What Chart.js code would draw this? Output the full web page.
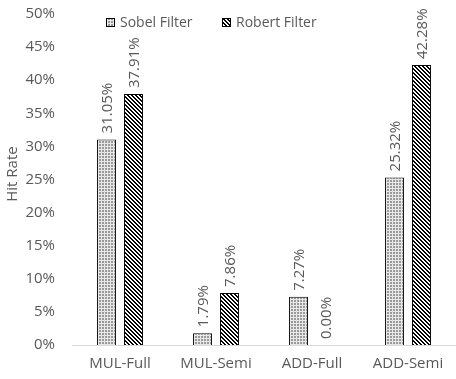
<!DOCTYPE html>
<html>
<head>
<meta charset="utf-8">
<script src="https://cdn.jsdelivr.net/npm/chart.js@4"></script>
<style>
  html, body { margin: 0; padding: 0; background: #fff; }
</style>
</head>
<body>
<canvas id="grafico" width="456" height="379"></canvas>
<script>
// dados do gráfico
const categorias = ['MUL-Full', 'MUL-Semi', 'ADD-Full', 'ADD-Semi'];
const sobel = [31.05, 1.79, 7.27, 25.32];
const robert = [37.91, 7.86, 0.00, 42.28];
const nomesSeries = ['Sobel Filter', 'Robert Filter'];
const ticksY = [0, 5, 10, 15, 20, 25, 30, 35, 40, 45, 50];
const tituloY = 'Hit Rate';

const fonte = '"Open Sans", sans-serif';
const cinza = '#595959';

// padrões de preenchimento
function padraoPontos() {
    const c = document.createElement('canvas');
    c.width = 3; c.height = 3;
    const g = c.getContext('2d');
    g.fillStyle = '#ffffff';
    g.fillRect(0, 0, 3, 3);
    g.fillStyle = '#9a9a9a';
    g.fillRect(0, 0, 2, 2);
    g.fillStyle = '#e8e8e8';
    g.fillRect(2, 0, 1, 3);
    g.fillRect(0, 2, 3, 1);
    return g.createPattern(c, 'repeat');
}

function padraoListras() {
    const c = document.createElement('canvas');
    c.width = 4; c.height = 4;
    const g = c.getContext('2d');
    g.fillStyle = '#ffffff';
    g.fillRect(0, 0, 4, 4);
    g.fillStyle = '#000000';
    for (let i = 0; i < 4; i++) {
        g.fillRect(i, i, 2, 1);
    }
    g.fillRect(0, 3, 1, 1);
    return g.createPattern(c, 'repeat');
}

const pontos = padraoPontos();
const listras = padraoListras();

// rótulos verticais acima das barras
const rotulos = {
    id: 'rotulos',
    afterDatasetsDraw(chart) {
        const ctx = chart.ctx;
        ctx.save();
        ctx.font = '15px ' + fonte;
        ctx.fillStyle = cinza;
        ctx.textAlign = 'left';
        ctx.textBaseline = 'middle';
        chart.data.datasets.forEach((ds, i) => {
            chart.getDatasetMeta(i).data.forEach((bar, j) => {
                ctx.save();
                ctx.translate(bar.x + 1, bar.y - 6);
                ctx.rotate(-Math.PI / 2);
                ctx.fillText(ds.data[j].toFixed(2) + '%', 0, 0);
                ctx.restore();
            });
        });
        ctx.restore();
    }
};

// legenda dentro da área do gráfico + título do eixo
const legenda = {
    id: 'legenda',
    afterDraw(chart) {
        const ctx = chart.ctx;
        const posicoes = [106, 222];
        const y = 22;
        ctx.save();
        ctx.font = '14px ' + fonte;
        ctx.textBaseline = 'middle';
        chart.data.datasets.forEach((ds, i) => {
            const x = posicoes[i];
            ctx.fillStyle = ds.backgroundColor;
            ctx.fillRect(x, y - 4, 8, 8);
            ctx.strokeStyle = '#000';
            ctx.lineWidth = 1;
            ctx.strokeRect(x + 0.5, y - 3.5, 8, 8);
            ctx.fillStyle = cinza;
            ctx.fillText(ds.label, x + 14, y + 1);
        });

        // título do eixo y
        ctx.font = '15px ' + fonte;
        ctx.textAlign = 'center';
        ctx.translate(13, 174);
        ctx.rotate(-Math.PI / 2);
        ctx.fillText(tituloY, 0, 0);
        ctx.restore();
    }
};

const ctx = document.getElementById('grafico').getContext('2d');
const grafico = new Chart(ctx, {
    type: 'bar',
    data: {
        labels: categorias,
        datasets: [{
            label: nomesSeries[0],
            data: sobel,
            backgroundColor: pontos,
            borderColor: '#000',
            borderWidth: 1,
            categoryPercentage: 0.5625,
            barPercentage: 0.70
        }, {
            label: nomesSeries[1],
            data: robert,
            backgroundColor: listras,
            borderColor: '#000',
            borderWidth: 1,
            categoryPercentage: 0.5625,
            barPercentage: 0.70
        }]
    },
    options: {
        responsive: false,
        animation: false,
        layout: { autoPadding: false, padding: { top: 14, right: 0, left: 5, bottom: 0 } },
        plugins: {
            legend: { display: false },
            tooltip: { enabled: false }
        },
        scales: {
            x: {
                grid: { display: false, drawTicks: false },
                border: { color: '#d9d9d9' },
                ticks: { color: cinza, font: { family: fonte, size: 15 }, padding: 10 },
                afterFit(s) { s.height = 34; }
            },
            y: {
                min: 0,
                max: 50,
                afterBuildTicks(s) { s.ticks = ticksY.map(v => ({ value: v })); },
                grid: { display: false, drawTicks: false },
                border: { display: false },
                ticks: {
                    color: cinza,
                    font: { family: fonte, size: 15 },
                    padding: 17,
                    callback: v => v + '%'
                },
                afterFit(s) { s.width = 67; s.paddingTop = 0; s.paddingBottom = 0; }
            }
        }
    },
    plugins: [rotulos, legenda]
});
</script>
</body>
</html>
